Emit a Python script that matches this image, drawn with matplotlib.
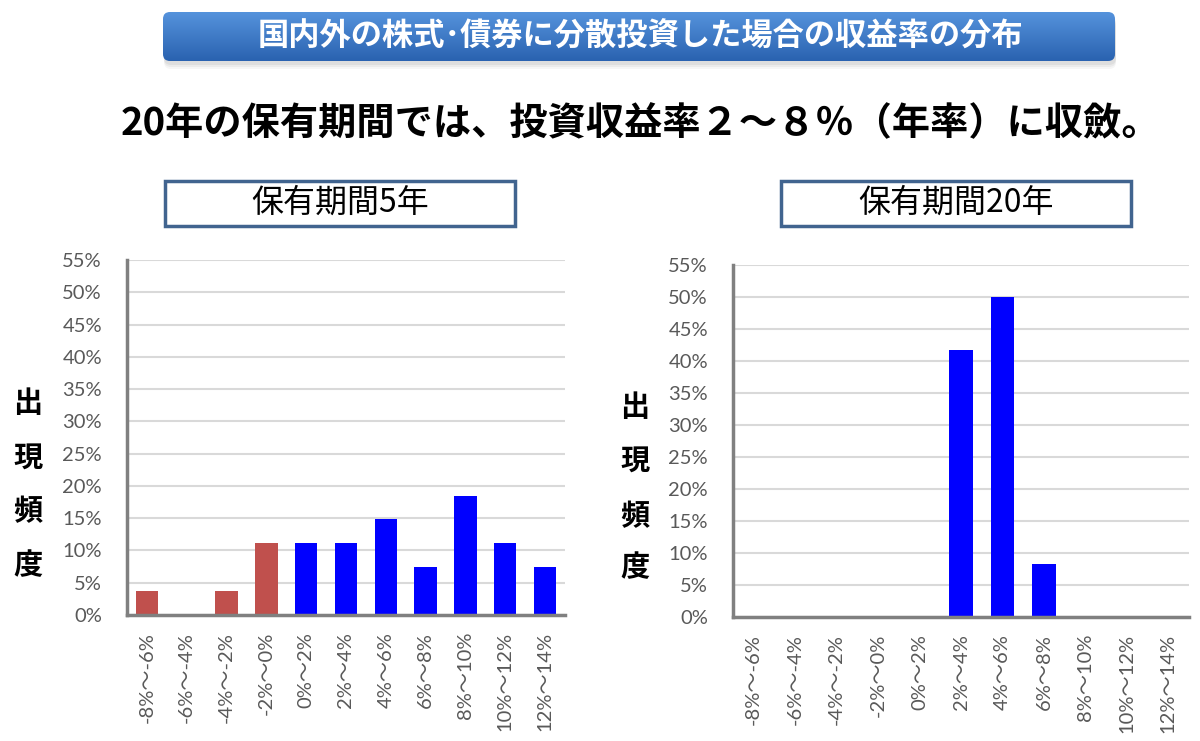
import numpy as np
import matplotlib.pyplot as plt
from matplotlib.patches import FancyBboxPatch, Rectangle
from matplotlib.ticker import FuncFormatter

# --- data ---
categories = ['-8%～-6%', '-6%～-4%', '-4%～-2%', '-2%～0%', '0%～2%', '2%～4%',
              '4%～6%', '6%～8%', '8%～10%', '10%～12%', '12%～14%']
freq_5y = [0.037, 0.0, 0.037, 0.111, 0.111, 0.111, 0.148, 0.074, 0.185, 0.111, 0.074]
freq_20y = [0.0, 0.0, 0.0, 0.0, 0.0, 0.417, 0.50, 0.083, 0.0, 0.0, 0.0]
y_ticks = [0, 0.05, 0.10, 0.15, 0.20, 0.25, 0.30, 0.35, 0.40, 0.45, 0.50, 0.55]

banner_title = '国内外の株式･債券に分散投資した場合の収益率の分布'
headline = '20年の保有期間では、投資収益率２～８％（年率）に収斂。'
panel_titles = ['保有期間5年', '保有期間20年']
ylabel_chars = ['出', '現', '頻', '度']

plt.rcParams['font.family'] = ['Noto Sans CJK JP', 'DejaVu Sans']
TICK_FONT = ['Lato', 'Noto Sans CJK JP']
RED = '#C0504D'
BLUE = '#0000FF'

fig = plt.figure(figsize=(12, 7.41), dpi=100)

# overlay in pixel coordinates for banner/boxes/labels
ov = fig.add_axes([0, 0, 1, 1])
ov.axis('off')
ov.patch.set_alpha(0)

# banner shadow
for i, a in enumerate([0.10, 0.08, 0.06]):
    ov.add_patch(FancyBboxPatch((163 + 1, 14 + 2 + i * 2), 952, 49,
                                boxstyle='round,pad=0,rounding_size=7',
                                fc='#707070', ec='none', alpha=a, zorder=1))
banner = FancyBboxPatch((163, 12), 952, 49, boxstyle='round,pad=0,rounding_size=7',
                        fc='none', ec='none', zorder=2)
ov.add_patch(banner)
grad = np.linspace(0, 1, 64).reshape(-1, 1)
top_c = np.array([0x55, 0x93, 0xDC]) / 255
bot_c = np.array([0x2A, 0x62, 0xB0]) / 255
img = top_c + (bot_c - top_c) * grad[..., None]
im = ov.imshow(np.repeat(img, 2, axis=1), extent=(163, 1115, 61, 12), aspect='auto', zorder=2)
im.set_clip_path(banner)
ov.set_xlim(0, 1200)
ov.set_ylim(741, 0)
ov.text(640, 37, banner_title, color='white', fontsize=22.5, fontweight='bold',
        ha='center', va='center', zorder=3)

# headline
ov.text(640, 124, headline, color='black', fontsize=27.5, fontweight='bold',
        ha='center', va='center')

# panel title boxes
for x0, title in zip([165, 781], panel_titles):
    ov.add_patch(Rectangle((x0, 181), 350, 45, fc='white', ec='#41648F', lw=2.5))
    ov.text(x0 + 175, 203, title, fontsize=23, ha='center', va='center', color='black')

# y labels (stacked characters)
for x, ys in [(28, [403, 458, 511, 565]), (635, [407, 461, 516, 567])]:
    for ch, y in zip(ylabel_chars, ys):
        ov.text(x, y, ch, fontsize=21, fontweight='bold', ha='center', va='center')


def draw_panel(rect, values, colors):
    ax = fig.add_axes(rect)
    x = np.arange(len(categories))
    ax.bar(x, values, width=0.56, color=colors, zorder=3)
    ax.set_xlim(-0.5, len(categories) - 0.5)
    ax.set_ylim(0, 0.55)
    ax.set_yticks(y_ticks)
    ax.yaxis.set_major_formatter(FuncFormatter(lambda v, p: f'{v * 100:.0f}%'))
    ax.set_xticks(x)
    ax.set_xticklabels(categories, rotation=90, family=TICK_FONT)
    ax.grid(axis='y', color='#D9D9D9', lw=1.5, zorder=0)
    ax.set_axisbelow(True)
    for s in ['top', 'right']:
        ax.spines[s].set_visible(False)
    for s in ['left', 'bottom']:
        ax.spines[s].set_color('#808080')
        ax.spines[s].set_linewidth(2.5)
        ax.spines[s].set_zorder(4)
    ax.tick_params(axis='both', length=0, labelsize=14.5, labelcolor='#595959')
    ax.tick_params(axis='y', pad=18)
    ax.tick_params(axis='x', pad=12)
    for lab in ax.get_yticklabels():
        lab.set_family(TICK_FONT)
    return ax


colors_5y = [RED if i < 4 else BLUE for i in range(len(categories))]
draw_panel([127 / 1200, (741 - 615) / 741, 438 / 1200, (615 - 260) / 741], freq_5y, colors_5y)
draw_panel([733 / 1200, (741 - 617) / 741, 456 / 1200, (617 - 265) / 741], freq_20y,
           [BLUE] * len(categories))

fig.savefig('out.png', dpi=100, facecolor='white')
